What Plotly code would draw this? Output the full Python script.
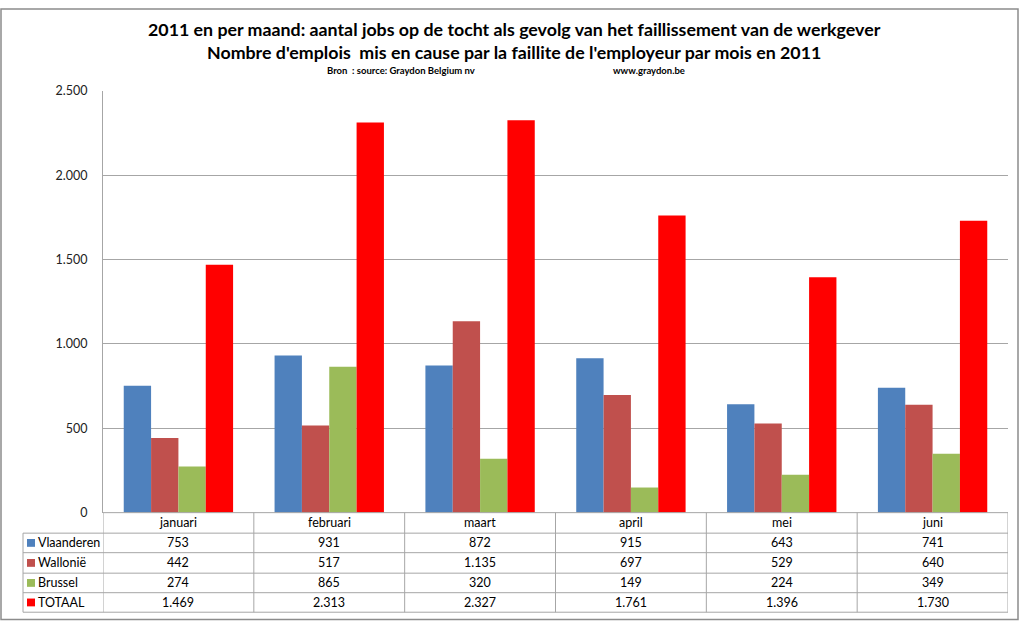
import plotly.graph_objects as go

months = ["januari", "februari", "maart", "april", "mei", "juni"]
series_names = ["Vlaanderen", "Wallonië", "Brussel", "TOTAAL"]
vlaanderen = [753, 931, 872, 915, 643, 741]
wallonie = [442, 517, 1135, 697, 529, 640]
brussel = [274, 865, 320, 149, 224, 349]
totaal = [1469, 2313, 2327, 1761, 1396, 1730]
series_values = [vlaanderen, wallonie, brussel, totaal]
colors = ["#4F81BD", "#C0504D", "#9BBB59", "#FF0000"]
y_ticks = [0, 500, 1000, 1500, 2000, 2500]

title1 = "2011 en per maand: aantal jobs op de tocht als gevolg van het faillissement van de werkgever"
title2 = "Nombre d'emplois  mis en cause par la faillite de l'employeur par mois en 2011"
source_left = "Bron  : source: Graydon Belgium nv"
source_right = "www.graydon.be"

W, H = 1024, 628
FONT = "Lato, 'Open Sans', sans-serif"
GRID = "#A6A6A6"


def px(x):
    return x / W


def py(y):
    return 1 - y / H


def fmt(v):
    return f"{v:,}".replace(",", ".")


plot_left, plot_right, plot_top, plot_bottom = 103, 1008, 85, 517
row_lines = [517, 538, 558, 579, 599, 619]
legend_left = 23

fig = go.Figure()
for name, vals, col in zip(series_names, series_values, colors):
    fig.add_trace(go.Bar(x=months, y=vals, name=name, marker_color=col,
                         marker_line_width=0, showlegend=False))

shapes = []
annotations = []

for i, y in enumerate(row_lines):
    x0 = plot_left if i == 0 else legend_left
    shapes.append(dict(type="line", xref="paper", yref="paper",
                       x0=px(x0), x1=px(plot_right), y0=py(y), y1=py(y),
                       line=dict(color=GRID, width=1)))
n = len(months)
for k in range(n + 1):
    shapes.append(dict(type="line", xref="x", yref="paper",
                       x0=k - 0.5, x1=k - 0.5, y0=py(row_lines[0]), y1=py(row_lines[-1]),
                       line=dict(color=GRID, width=1)))
shapes.append(dict(type="line", xref="paper", yref="paper",
                   x0=px(legend_left), x1=px(legend_left), y0=py(row_lines[1]), y1=py(row_lines[-1]),
                   line=dict(color=GRID, width=1)))
shapes.append(dict(type="rect", xref="paper", yref="paper",
                   x0=px(1), x1=px(1018), y0=py(1), y1=py(626.5),
                   line=dict(color="#8C8C8C", width=1.5)))

cell_font = dict(family=FONT, size=12.5, color="#000")
for m in months:
    annotations.append(dict(x=m, xref="x", y=py((row_lines[0] + row_lines[1]) / 2), yref="paper",
                            xanchor="center", yanchor="middle",
                            text=m, showarrow=False, font=cell_font))
for r, (name, vals, col) in enumerate(zip(series_names, series_values, colors)):
    yc = py((row_lines[r + 1] + row_lines[r + 2]) / 2)
    shapes.append(dict(type="rect", xref="paper", yref="paper",
                       x0=px(27), x1=px(35), y0=yc - 4 / H, y1=yc + 4 / H,
                       fillcolor=col, line=dict(width=0)))
    annotations.append(dict(x=px(36), xref="paper", y=yc, yref="paper", xanchor="left", yanchor="middle",
                            text=name, showarrow=False,
                            font=dict(family=FONT, size=12.5, color="#000")))
    for m, v in zip(months, vals):
        annotations.append(dict(x=m, xref="x", y=yc, yref="paper", text=fmt(v),
                                xanchor="center", yanchor="middle",
                                showarrow=False, font=cell_font))

annotations.append(dict(x=px(514), xref="paper", y=py(22), yref="paper", text="<b>" + title1 + "</b>",
                        xanchor="center", yanchor="middle",
                        showarrow=False, font=dict(family=FONT, size=17.8, color="#000")))
annotations.append(dict(x=px(514), xref="paper", y=py(45.5), yref="paper", text="<b>" + title2 + "</b>",
                        xanchor="center", yanchor="middle",
                        showarrow=False, font=dict(family=FONT, size=17.8, color="#000")))
annotations.append(dict(x=px(325), xref="paper", y=py(64), yref="paper", xanchor="left", yanchor="middle",
                        text="<b>" + source_left + "</b>",
                        showarrow=False, font=dict(family=FONT, size=9.5, color="#000")))
annotations.append(dict(x=px(611), xref="paper", y=py(64), yref="paper", xanchor="left", yanchor="middle",
                        text="<b>" + source_right + "</b>",
                        showarrow=False, font=dict(family=FONT, size=9.5, color="#000")))

fig.update_layout(
    width=W, height=H,
    margin=dict(l=0, r=0, t=0, b=0),
    paper_bgcolor="white", plot_bgcolor="white",
    barmode="group", bargap=0.275, bargroupgap=0,
    separators=",.",
    shapes=shapes, annotations=annotations,
    xaxis=dict(domain=[px(plot_left), px(plot_right)], showticklabels=False, showgrid=False,
               showline=False, zeroline=False, range=[-0.5, n - 0.5], fixedrange=True),
    yaxis=dict(domain=[py(plot_bottom), py(plot_top)], range=[0, 2500], tickvals=y_ticks,
               tickformat=",d", showgrid=True, gridcolor=GRID, gridwidth=1,
               showline=True, linecolor=GRID, linewidth=1, zeroline=False,
               ticks="", ticklabelstandoff=12,
               tickfont=dict(family=FONT, size=12.5, color="#222")),
)

fig.write_html("out.html", config={"displayModeBar": False},
               post_script="document.body.style.margin='0';document.body.style.overflow='hidden';")
